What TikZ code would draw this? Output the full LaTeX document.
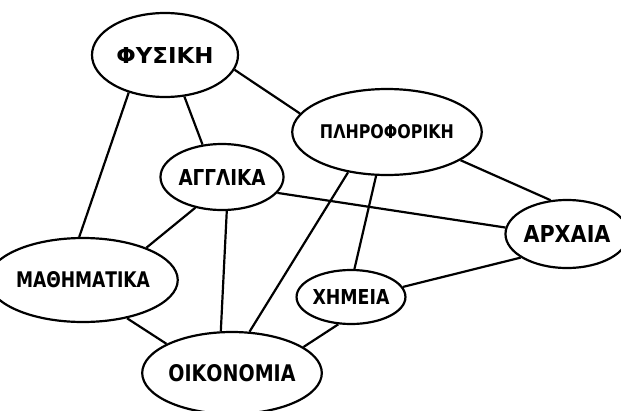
\documentclass[tikz,border=0pt]{standalone}
\usepackage{fontspec}
\setmainfont{DejaVu Sans}
\usetikzlibrary{shapes.geometric}
\newcommand{\hwlabel}[3]{\resizebox{#1pt}{#2pt}{\bfseries #3}}
\tikzset{
  topic/.style={draw, ellipse, line width=2.2pt, inner sep=0pt},
  link/.style={line width=2.2pt}
}
\begin{document}
\begin{tikzpicture}[x=1pt,y=-1pt]
\useasboundingbox (0,0) rectangle (621,410);
\begin{scope}
\clip (0,0) rectangle (621,410);
\node[topic, minimum width=146pt, minimum height=84pt] (fys) at (165,55) {\hwlabel{97}{16}{ΦΥΣΙΚΗ}};
\node[topic, minimum width=146pt, minimum height=86pt] (pli) at (387,132) {\hwlabel{134}{14}{ΠΛΗΡΟΦΟΡΙΚΗ}};
\node[topic, minimum width=116pt, minimum height=66pt] (agg) at (222,177) {\hwlabel{87}{16}{ΑΓΓΛΙΚΑ}};
\node[topic, minimum width=110pt, minimum height=68pt] (arx) at (567,234) {\hwlabel{87}{17}{ΑΡΧΑΙΑ}};
\node[topic, minimum width=146pt, minimum height=84pt] (mat) at (83,280) {\hwlabel{134}{16}{ΜΑΘΗΜΑΤΙΚΑ}};
\node[topic, minimum width=94pt, minimum height=54pt] (xim) at (351,297) {\hwlabel{77}{15}{ΧΗΜΕΙΑ}};
\node[topic, minimum width=148pt, minimum height=82pt] (oik) at (232,373) {\hwlabel{127}{17}{ΟΙΚΟΝΟΜΙΑ}};
\draw[link] (fys.-12) -- (pli.168);
\draw[link] (fys.-134) -- (mat.95);
\draw[link] (fys.-65) -- (agg.121);
\draw[link] (pli.-134) -- (oik.67);
\draw[link] (pli.-104) -- (xim.83);
\draw[link] (pli.-21) -- (arx.116);
\draw[link] (agg.-16) -- (arx.174);
\draw[link] (agg.-131) -- (mat.27);
\draw[link] (agg.-82) -- (oik.105);
\draw[link] (arx.-153) -- (xim.11);
\draw[link] (xim.-115) -- (oik.20);
\draw[link] (mat.-41) -- (oik.156);
\end{scope}
\end{tikzpicture}
\end{document}
